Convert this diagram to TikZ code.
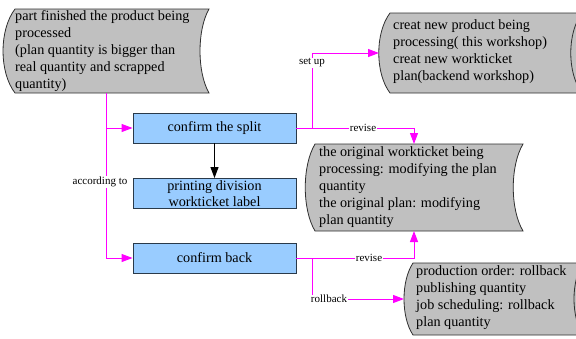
\documentclass[tikz,border=0pt]{standalone}
\usepackage{fontspec}
\setmainfont{Liberation Serif}
\usetikzlibrary{arrows.meta}
\definecolor{mag}{HTML}{FF00FF}
\definecolor{boxblue}{HTML}{99CCFF}
\definecolor{shapegray}{HTML}{C0C0C0}
\definecolor{edgecol}{HTML}{2F2F2F}
\definecolor{boxedge}{HTML}{2A3A4A}
\begin{document}
\begin{tikzpicture}[x=1pt,y=-1pt,
  proc/.style={draw=boxedge, fill=boxblue, line width=0.9pt, minimum width=163pt, minimum height=30pt, inner sep=0pt, align=center, font=\fontsize{14.2}{16}\selectfont},
  txt/.style={inner sep=0pt, align=left, anchor=west, font=\fontsize{14.2}{17}\selectfont},
  lab/.style={fill=white, inner sep=0.6pt, font=\fontsize{11}{12}\selectfont},
  shp/.style={fill=shapegray, draw=edgecol, line width=0.8pt},
  flow/.style={draw=mag, line width=1pt, -{Triangle[length=11pt,width=8pt]}},
  blk/.style={draw=black, line width=1pt, -{Triangle[length=11pt,width=8pt]}}
]
\useasboundingbox (0,0) rectangle (576,338);

% shape A (stored data)
\path[shp] (15,9) -- (209,9) .. controls (197,30) and (197,72) .. (209,93)
  -- (15,93) .. controls (-1,72) and (-1,30) .. (15,9) -- cycle;
% shape C (stored data)
\path[shp] (315,144) -- (523,144) .. controls (510,166) and (510,209) .. (523,231)
  -- (315,231) .. controls (302,209) and (302,166) .. (315,144) -- cycle;
% shape B (direct access storage)
\path[shp] (390,13) -- (582,13) .. controls (597,33) and (597,73) .. (582,93)
  -- (390,93) .. controls (375,73) and (375,33) .. (390,13) -- cycle;
\draw[draw=edgecol, line width=0.8pt] (582,13) .. controls (567,33) and (567,73) .. (582,93);
% shape D (direct access storage)
\path[shp] (413,263) -- (583,263) .. controls (595,281) and (595,317) .. (583,335)
  -- (413,335) .. controls (401,317) and (401,281) .. (413,263) -- cycle;
\draw[draw=edgecol, line width=0.8pt] (583,263) .. controls (571,281) and (571,317) .. (583,335);

% texts of the shapes
\node[txt] (A) at (15,51) {part finished the product being\\processed\\(plan quantity is bigger than\\real quantity and scrapped\\quantity)};
\node[txt] (B) at (393,52) {creat new product being\\processing( this workshop)\\creat new workticket\\plan(backend workshop)};
\node[txt] (C) at (319,187) {the original workticket being\\processing: modifying the plan\\quantity\\the original plan: modifying\\plan quantity};
\node[txt] (D) at (416,298) {production order: rollback\\publishing quantity\\job scheduling: rollback\\plan quantity};

% process boxes
\node[proc] (split) at (214.5,128) {confirm the split};
\node[proc] (print) at (214.5,193.5) {printing division\\workticket label};
\node[proc] (back) at (214.5,258) {confirm back};

% attachment points
\coordinate (Aout) at (106,93);
\coordinate (Bin) at (379,53);
\coordinate (Cin) at (414,144);
\coordinate (Cout) at (414,231);
\coordinate (Din) at (404,299);
\coordinate (J1) at (312,128);
\coordinate (J2) at (312,258);

% connectors
\draw[flow] (Aout) |- (split.west);
\draw[flow] (Aout) |- (back.west);
\draw[blk] (split) -- (print);
\draw[flow] (split.east) -- (J1) |- (Bin);
\draw[flow] (split.east) -| (Cin);
\draw[flow] (back.east) -| (Cout);
\draw[flow] (back.east) -- (J2) |- (Din);

% labels
\node[lab] (l1) at (100,182) {according to};
\node[lab] (l2) at (312,63) {set up};
\node[lab] (l3) at (363,128) {revise};
\node[lab] (l4) at (369,258) {revise};
\node[lab] (l5) at (329,299) {rollback};
\end{tikzpicture}
\end{document}
